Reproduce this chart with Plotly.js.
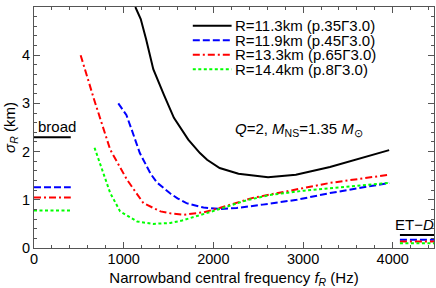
<!DOCTYPE html>
<html>
<head>
<meta charset="utf-8">
<script src="https://cdn.plot.ly/plotly-3.0.1.min.js"></script>
<style>
html,body{margin:0;padding:0;background:#fff;}
#chart{width:436px;height:288px;}
</style>
</head>
<body>
<div id="chart"></div>
<script>
// ---- data ----
const seriesNames = ["R=11.3km (p.35\u03933.0)", "R=11.9km (p.45\u03933.0)", "R=13.3km (p.65\u03933.0)", "R=14.4km (p.8\u03933.0)"];

const freqBlack  = [1130, 1190, 1250, 1330, 1450, 1560, 1720, 1850, 1930, 2070, 2280, 2610, 2920, 3300, 3960];
const sigmaBlack = [5.0, 4.75, 4.33, 3.71, 3.17, 2.70, 2.25, 1.97, 1.83, 1.66, 1.54, 1.47, 1.52, 1.68, 2.03];

const freqBlue  = [940, 1030, 1090, 1180, 1300, 1370, 1520, 1600, 1700, 1890, 2070, 2260, 2550, 2930, 3300, 3960];
const sigmaBlue = [3.0, 2.76, 2.45, 1.97, 1.54, 1.36, 1.13, 1.03, 0.93, 0.84, 0.81, 0.83, 0.90, 1.00, 1.14, 1.35];

const freqRed  = [520, 670, 850, 1036, 1220, 1410, 1520, 1666, 1890, 2070, 2440, 2900, 3300, 3960];
const sigmaRed = [4.0, 3.08, 2.04, 1.42, 0.93, 0.76, 0.72, 0.69, 0.74, 0.83, 1.04, 1.21, 1.35, 1.52];

const freqGreen  = [675, 775, 850, 960, 1150, 1330, 1520, 1650, 1820, 1970, 2070, 2370, 2630, 3010, 3300, 3960];
const sigmaGreen = [2.08, 1.55, 1.14, 0.76, 0.55, 0.50, 0.52, 0.57, 0.66, 0.75, 0.81, 0.99, 1.10, 1.19, 1.24, 1.35];

const broadFreq   = [0, 410];
const broadValues = [2.30, 1.26, 1.05, 0.78];

const etdFreq   = [4080, 4460];
const etdValues = [0.27, 0.17, 0.135, 0.10];

const xTickVals = [0, 1000, 2000, 3000, 4000];
const yTickVals = [0, 1, 2, 3, 4, 5];

// ---- styles ----
const colors = ["#000000", "#0000ff", "#ff0000", "#00ff00"];
const dashes = ["solid", "7px,3px", "7px,3px,2px,3px", "3px,2.5px"];
const widths = [2, 2, 2, 2];

const curveX = [freqBlack, freqBlue, freqRed, freqGreen];
const curveY = [sigmaBlack, sigmaBlue, sigmaRed, sigmaGreen];

const traces = [];
for (let i = 0; i < 4; i++) {
  traces.push({x: curveX[i], y: curveY[i], type: "scatter", mode: "lines",
    line: {color: colors[i], dash: dashes[i], width: widths[i]}, name: seriesNames[i], hoverinfo: "skip"});
  traces.push({x: broadFreq, y: [broadValues[i], broadValues[i]], type: "scatter", mode: "lines",
    line: {color: colors[i], dash: dashes[i], width: widths[i]}, showlegend: false, hoverinfo: "skip"});
  traces.push({x: etdFreq, y: [etdValues[i], etdValues[i]], type: "scatter", mode: "lines",
    line: {color: colors[i], dash: dashes[i], width: widths[i]}, showlegend: false, hoverinfo: "skip", cliponaxis: false});
}

const FONT = "Liberation Sans, Arial, sans-serif";

// manual legend (positions in paper coords)
const legY = [0.922, 0.862, 0.802, 0.742];
const shapes = [];
const annotations = [];
for (let i = 0; i < 4; i++) {
  shapes.push({type: "line", xref: "paper", yref: "paper", x0: 0.397, x1: 0.494, y0: legY[i], y1: legY[i],
    line: {color: colors[i], dash: dashes[i], width: widths[i]}});
  annotations.push({xref: "paper", yref: "paper", x: 0.500, y: legY[i], xanchor: "left", yanchor: "middle",
    text: seriesNames[i], showarrow: false, borderpad: 0, font: {family: FONT, size: 15, color: "#000"}});
}
annotations.push({xref: "x", yref: "y", x: 2950, y: 2.45, xanchor: "center", yanchor: "middle", showarrow: false,
  text: "<i>Q</i>=2, <i>M</i><sub>NS</sub>=1.35 <i>M</i><sub>\u2299</sub>", font: {family: FONT, size: 15, color: "#000"}});
annotations.push({xref: "x", yref: "y", x: 20, y: 2.30, xanchor: "left", yanchor: "bottom", showarrow: false,
  text: "broad", font: {family: FONT, size: 15, color: "#000"}});
annotations.push({xref: "x", yref: "y", x: 4000, y: 0.27, xanchor: "left", yanchor: "bottom", showarrow: false,
  text: "ET\u2212<i>D</i>", font: {family: FONT, size: 15, color: "#000"}});

const axisCommon = {
  showline: true, linecolor: "#555", linewidth: 1, mirror: "ticks",
  ticks: "inside", ticklen: 6, tickwidth: 1, tickcolor: "#555",
  showgrid: false, zeroline: false,
  tickfont: {family: FONT, size: 14.5, color: "#000"}
};

const layout = {
  width: 436, height: 288,
  margin: {l: 34, r: 2, t: 7, b: 40},
  paper_bgcolor: "#fff", plot_bgcolor: "#fff",
  showlegend: false,
  xaxis: Object.assign({}, axisCommon, {
    range: [0, 4460], tickvals: xTickVals, ticktext: xTickVals.map(String),
    ticklabelstandoff: -2,
    minor: {dtick: 200, tick0: 0, ticks: "inside", ticklen: 3, tickcolor: "#555"},
    title: {text: "Narrowband central frequency <i>f</i><sub><i>R</i></sub> (Hz)", font: {family: FONT, size: 15, color: "#000"}, standoff: 8}
  }),
  yaxis: Object.assign({}, axisCommon, {
    range: [0, 5], tickvals: yTickVals, ticktext: yTickVals.map(String),
    minor: {dtick: 0.2, tick0: 0, ticks: "inside", ticklen: 3, tickcolor: "#555"},
    title: {text: "<i>\u03c3</i><sub><i>R</i></sub> (km)", font: {family: FONT, size: 15, color: "#000"}, standoff: 2}
  }),
  shapes: shapes,
  annotations: annotations
};

Plotly.newPlot("chart", traces, layout, {displayModeBar: false, staticPlot: true});
</script>
</body>
</html>
